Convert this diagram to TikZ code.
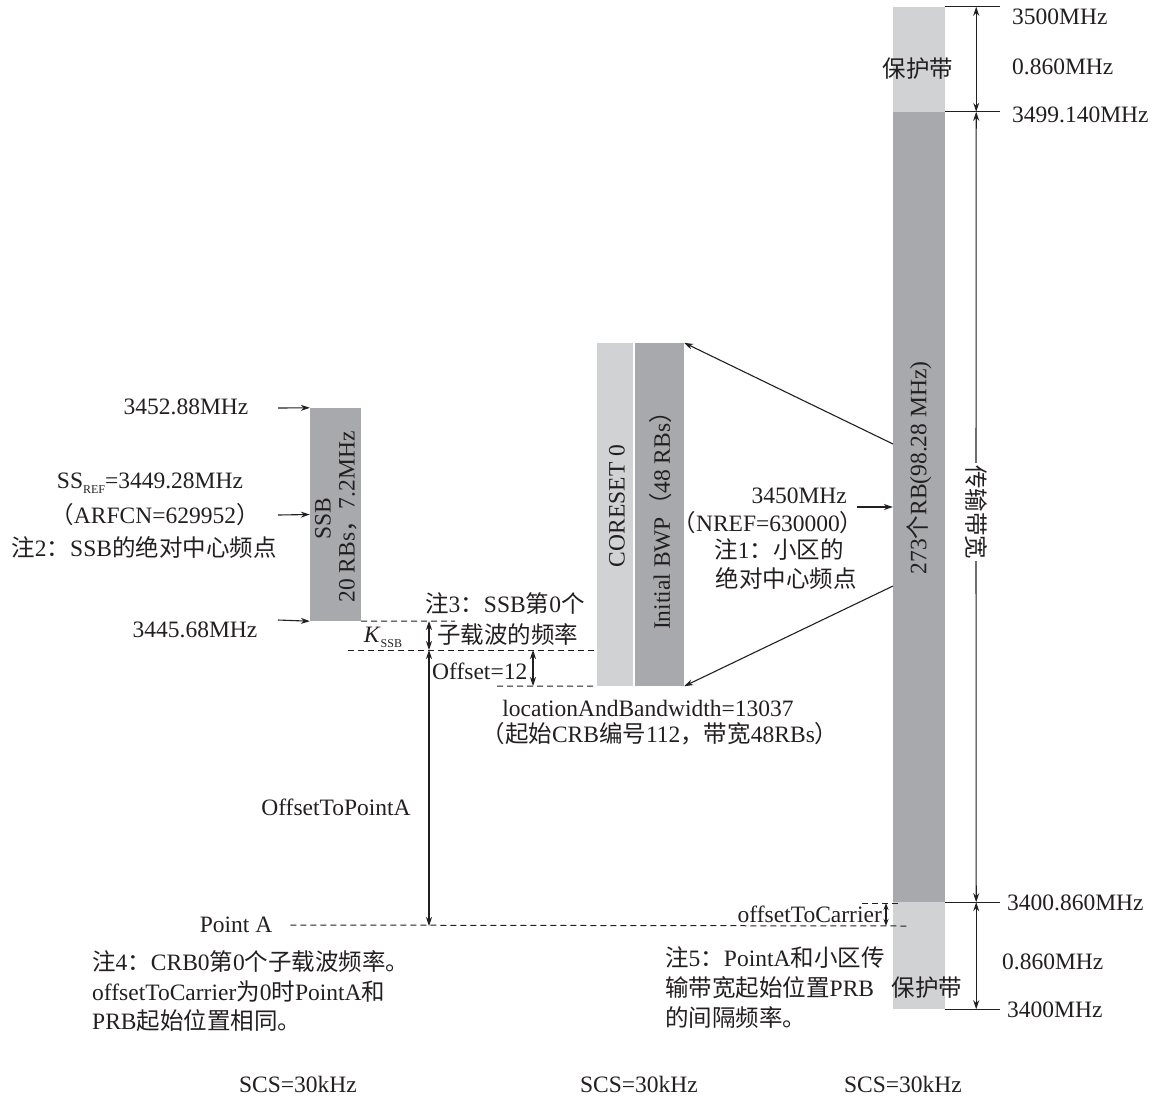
\documentclass[tikz,border=0pt]{standalone}
\usepackage{fontspec}
\setmainfont{Liberation Serif}
\newfontfamily\cjk{Noto Sans CJK SC}
\newcommand{\zh}[1]{{\cjk #1}}
\newcommand{\sub}[1]{\raisebox{-0.45ex}{\fontsize{12}{12}\selectfont #1}}
\usetikzlibrary{arrows.meta}
\definecolor{guardgray}{HTML}{D1D2D4}
\definecolor{rbgray}{HTML}{A8A9AC}
\definecolor{ink}{HTML}{231F20}

\begin{document}
\begin{tikzpicture}[x=1pt,y=-1pt,
  lbl/.style={inner sep=0pt, text=ink, font=\fontsize{23.5}{30}\selectfont},
  band/.style={draw=none, inner sep=0pt},
  arr/.style={draw=ink, line width=1.1pt, -{Stealth[length=9pt,width=6pt]}},
  dim/.style={draw=ink, line width=1.1pt, {Stealth[length=9pt,width=6pt]}-{Stealth[length=9pt,width=6pt]}},
  tick/.style={draw=ink, line width=1.1pt},
  dashln/.style={draw=ink, line width=1pt, dash pattern=on 6pt off 4pt}]
\useasboundingbox (0,0) rectangle (1163,1096);

% carrier: guard bands and transmission bandwidth
\node[band, fill=guardgray, minimum width=52pt, minimum height=105pt] (gtop) at (919,59.5) {};
\node[band, fill=rbgray, minimum width=52pt, minimum height=790pt] (rb) at (919,507) {};
\node[band, fill=guardgray, minimum width=52pt, minimum height=107pt] (gbot) at (919,955.5) {};
\node[lbl] (gtoptxt) at (918,69) {\zh{保护带}};
\node[lbl] (gbottxt) at (927,988) {\zh{保护带}};
\node[lbl, rotate=90] (rbtxt) at (919,468) {273\zh{个}RB(98.28 MHz)};

\draw[tick] (gtop.north east) -- ++(55,0) coordinate (k1);
\draw[tick] (rb.north east) -- ++(55,0) coordinate (k2);
\draw[tick] (rb.south east) -- ++(55,0) coordinate (k3);
\draw[tick] (gbot.south east) -- ++(55,0) coordinate (k4);
\draw[dim] ([xshift=-24pt]k1) -- ([xshift=-24pt]k2);
\draw[dim] ([xshift=-24pt]k3) -- ([xshift=-24pt]k4);
\node[lbl, rotate=-90, inner sep=2pt] (bw) at (976,512) {\zh{传输带宽}};
\draw[arr] (bw) -- ([xshift=-24pt]k2);
\draw[arr] (bw) -- ([xshift=-24pt]k3);

\node[lbl, anchor=west] (f1) at (1012,17) {3500MHz};
\node[lbl, anchor=west] (f2) at (1012,67) {0.860MHz};
\node[lbl, anchor=west] (f3) at (1012,115) {3499.140MHz};
\node[lbl, anchor=west] (f4) at (1007,903) {3400.860MHz};
\node[lbl, anchor=west] (f5) at (1002,962) {0.860MHz};
\node[lbl, anchor=west] (f6) at (1007,1010) {3400MHz};

% CORESET 0 and initial BWP
\node[band, fill=guardgray, minimum width=36pt, minimum height=343pt] (coreset) at (615,514.5) {};
\node[band, fill=rbgray, minimum width=49pt, minimum height=343pt] (ibwp) at (659.5,514.5) {};
\node[lbl, rotate=90] (coresettxt) at (617,506) {CORESET 0};
\node[lbl, rotate=90] (ibwptxt) at (661,515) {Initial BWP\zh{（}48 RBs\zh{）}};
\coordinate (rbup) at (893,444);
\coordinate (rblo) at (893,586);
\draw[arr] (rbup) -- (ibwp.north east);
\draw[arr] (rblo) -- (ibwp.south east);

\node[lbl, anchor=east] (nref) at (847,496) {3450MHz};
\coordinate (nrefstart) at (857,507);
\draw[arr] (nrefstart) -- (rb.west);
\node[lbl] (nref2) at (768,523) {\zh{（}NREF=630000\zh{）}};
\node[lbl] (note1a) at (779,550) {\zh{注}1\zh{：小区的}};
\node[lbl] (note1b) at (786,578) {\zh{绝对中心频点}};

% SSB
\node[band, fill=rbgray, minimum width=51pt, minimum height=213pt] (ssb) at (335.5,514.5) {};
\node[lbl, rotate=90] (ssbtxt) at (323,519) {SSB};
\node[lbl, rotate=90] (ssbtxt2) at (348,517) {20 RBs\zh{，}7.2MHz};
\coordinate (s1) at (278,408);
\coordinate (s2) at (278,515);
\coordinate (s3) at (278,620);
\draw[arr] (s1) -- (ssb.north west);
\draw[arr] (s2) -- (ssb.west);
\draw[arr] (s3) -- (ssb.south west);
\node[lbl] (ssbhi) at (186,407) {3452.88MHz};
\node[lbl] (ssref) at (150,483) {SS\sub{REF}=3449.28MHz};
\node[lbl] (arfcn) at (155,515) {\zh{（}ARFCN=629952\zh{）}};
\node[lbl] (note2) at (144,547) {\zh{注}2\zh{：}SSB\zh{的绝对中心频点}};
\node[lbl] (ssblo) at (195,630) {3445.68MHz};

% subcarrier offsets
\coordinate (d1e) at (455,621);
\coordinate (d2s) at (348,650);
\coordinate (d3s) at (497,686);
\draw[dashln] (ssb.south east) -- (d1e);
\draw[dashln] (d2s) -- (coreset.west |- d2s);
\draw[dashln] (d3s) -- (coreset.south west);
\coordinate (ka) at (429,621);
\coordinate (kb) at (429,650);
\coordinate (oa) at (533,650);
\coordinate (ob) at (533,686);
\coordinate (pa) at (429,926);
\draw[dim] (ka) -- (kb);
\draw[dim] (oa) -- (ob);
\draw[dim] (kb) -- (pa);
\node[lbl] (kssb) at (383,637) {\textit{K}\sub{SSB}};
\node[lbl, anchor=west] (offs) at (432,671) {Offset=12};
\node[lbl] (otpa) at (336,807) {OffsetToPointA};
\node[lbl, anchor=west] (note3a) at (425,604) {\zh{注}3\zh{：}SSB\zh{第}0\zh{个}};
\node[lbl, anchor=west] (note3b) at (437,635) {\zh{子载波的频率}};
\node[lbl] (lab1) at (648,708) {locationAndBandwidth=13037};
\node[lbl] (lab2) at (660,734) {\zh{（起始}CRB\zh{编号}112\zh{，带宽}48RBs\zh{）}};

% Point A
\node[lbl] (pta) at (236,925) {Point A};
\coordinate (pae) at (907,926);
\draw[dashln] ([xshift=18pt]pta.east) -- (pae);
\coordinate (oc1) at (862,903);
\coordinate (oc2) at (899,903);
\draw[dashln] (oc1) -- (oc2);
\coordinate (oca) at (886,903);
\coordinate (ocb) at (886,926);
\draw[draw=ink, line width=1.1pt, {Stealth[length=7pt,width=5pt]}-{Stealth[length=7pt,width=5pt]}] (oca) -- (ocb);
\node[lbl, anchor=east] (otc) at (882,914) {offsetToCarrier};

\node[lbl, anchor=west] (note4a) at (92,962) {\zh{注}4\zh{：}CRB0\zh{第}0\zh{个子载波频率。}};
\node[lbl, anchor=west] (note4b) at (92,992) {offsetToCarrier\zh{为}0\zh{时}PointA\zh{和}};
\node[lbl, anchor=west] (note4c) at (92,1021) {PRB\zh{起始位置相同。}};
\node[lbl, anchor=west] (note5a) at (665,958) {\zh{注}5\zh{：}PointA\zh{和小区传}};
\node[lbl, anchor=west] (note5b) at (665,988) {\zh{输带宽起始位置}PRB};
\node[lbl, anchor=west] (note5c) at (665,1018) {\zh{的间隔频率。}};

% subcarrier spacing
\node[lbl] (scs1) at (298,1084) {SCS=30kHz};
\node[lbl] (scs2) at (639,1084) {SCS=30kHz};
\node[lbl] (scs3) at (903,1084) {SCS=30kHz};
\end{tikzpicture}
\end{document}
